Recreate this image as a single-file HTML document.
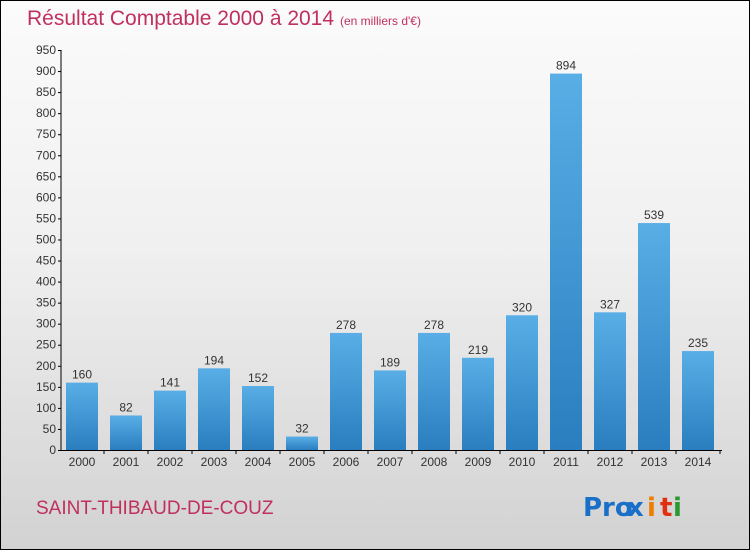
<!DOCTYPE html>
<html><head><meta charset="utf-8"><style>
html,body{margin:0;padding:0;}
body{width:750px;height:550px;overflow:hidden;}
#wrap{position:relative;width:748px;height:548px;border:1px solid #000;background:linear-gradient(#fbfbfb 0%,#f0f0f0 45%,#d2d2d2 100%);font-family:"Liberation Sans",sans-serif;}
</style></head><body>
<div id="wrap">
<svg width="748" height="548" viewBox="1 1 748 548" id="chart">
<defs><linearGradient id="bg" x1="0" y1="0" x2="0" y2="1"><stop offset="0" stop-color="#5aaee6"/><stop offset="1" stop-color="#2a7ebf"/></linearGradient></defs>
<text x="27" y="25" font-size="21" fill="#c0305e">Résultat Comptable 2000 à 2014</text>
<text x="340" y="25" font-size="12" fill="#c0305e">(en milliers d'€)</text>
<g id="axes"></g><g id="bars"></g>
<text x="36" y="514" font-size="19" fill="#c0305e">SAINT-THIBAUD-DE-COUZ</text>
<g font-size="26" font-weight="bold" font-family="DejaVu Sans, sans-serif">
<text x="583" y="516" fill="#1a6fc8">Pro</text><text x="627" y="516" fill="#1a6fc8">x</text><text x="647" y="516" fill="#f07c00">i</text><text x="660" y="516" fill="#e03010">t</text><text x="673" y="516" fill="#2a9a30">i</text>
</g>
</svg></div>
<script>
const categories=["2000","2001","2002","2003","2004","2005","2006","2007","2008","2009","2010","2011","2012","2013","2014"];
const values=[160,82,141,194,152,32,278,189,278,219,320,894,327,539,235];
const yTicks=[0,50,100,150,200,250,300,350,400,450,500,550,600,650,700,750,800,850,900,950];
const NS="http://www.w3.org/2000/svg";
const y=v=>450-v*400/950;
const x=i=>82+i*44;
const ax=document.getElementById('axes'),bg=document.getElementById('bars');
function mk(t,a,p){const e=document.createElementNS(NS,t);for(const k in a)e.setAttribute(k,a[k]);p.appendChild(e);return e;}
let l=mk('line',{x1:61,y1:y(950),x2:61,y2:450,stroke:'#000'},ax);


l=mk('line',{x1:61,y1:450.5,x2:722,y2:450.5,stroke:'#000'},ax);


yTicks.forEach(v=>{
 mk('line',{x1:58,x2:61,y1:y(v)+.5,y2:y(v)+.5,stroke:'#000'},ax);
 const t=mk('text',{x:56,y:y(v)+4,'font-size':12,'text-anchor':'end',fill:'#333'},ax);
 t.textContent=v;
 
 
});
categories.forEach((c,i)=>{
 mk('line',{x1:x(i)+22,x2:x(i)+22,y1:450,y2:454,stroke:'#000'},ax);
 const t=mk('text',{x:x(i),y:466,'font-size':12,'text-anchor':'middle',fill:'#333'},ax);
 t.textContent=c;
 
 
 const r=mk('rect',{x:x(i)-16,y:y(values[i]),width:32,height:450-y(values[i]),fill:'url(#bg)'},bg);
 
 
 const vt=mk('text',{x:x(i),y:y(values[i])-4,'font-size':12,'text-anchor':'middle',fill:'#333'},bg);
 vt.textContent=values[i];
 
 
});
</script>
</body></html>
